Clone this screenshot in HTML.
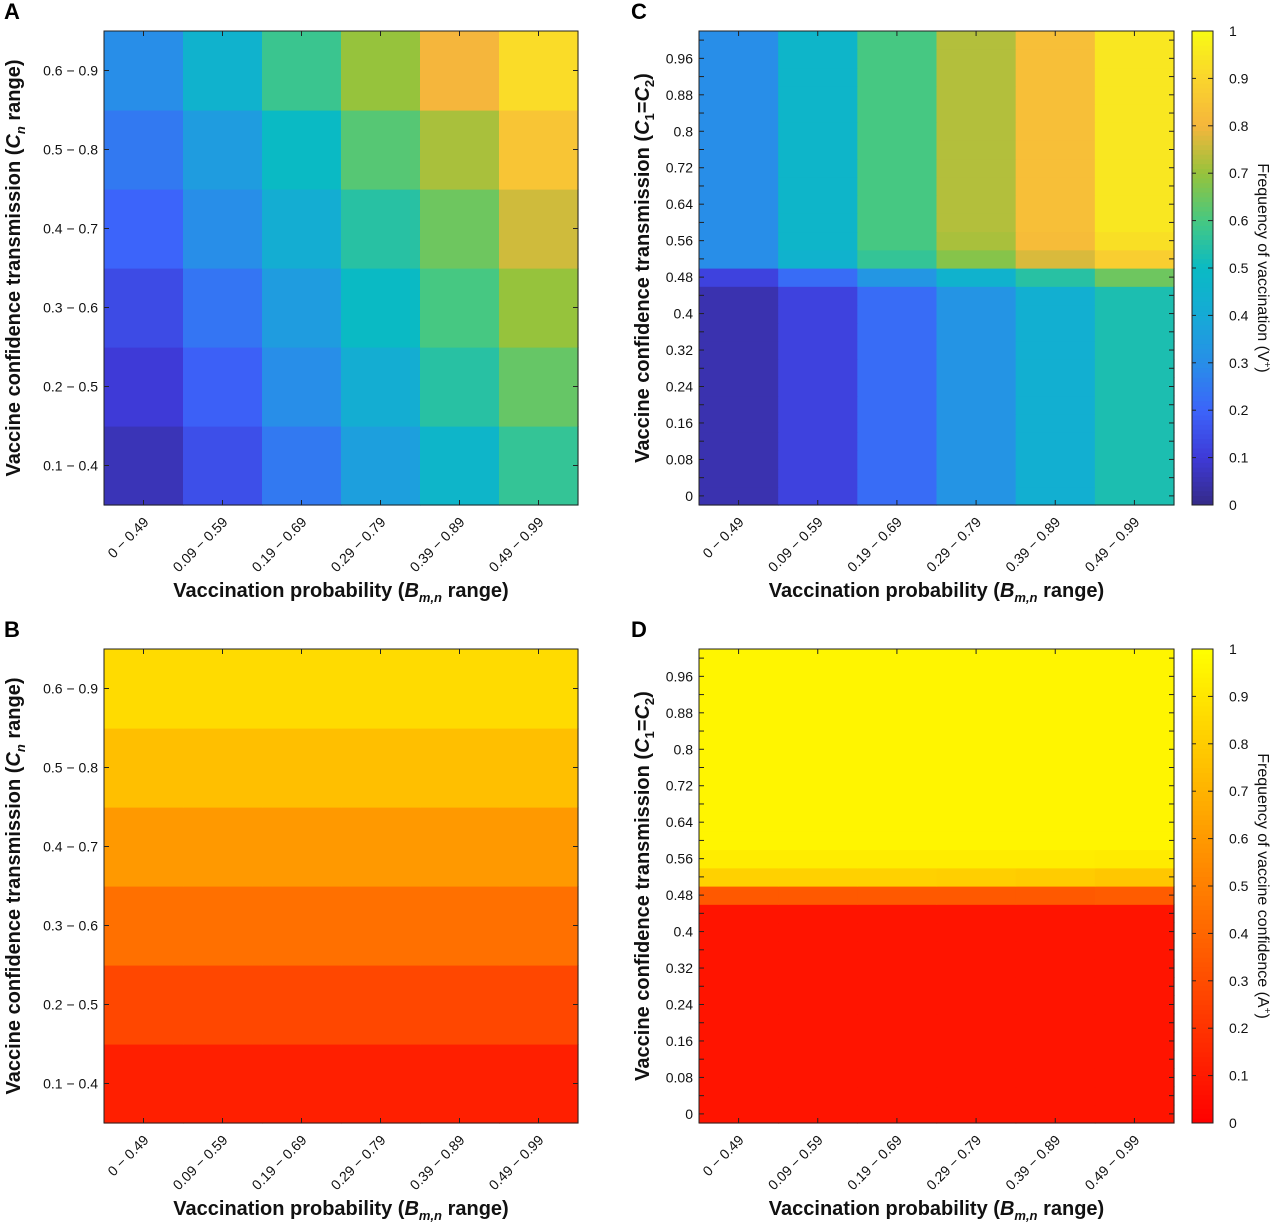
<!DOCTYPE html>
<html><head><meta charset="utf-8"><style>
body{margin:0;background:#fff;}
svg{display:block;font-family:"Liberation Sans",Arial,sans-serif;}
.tk{font-size:14px;fill:#111;}
.ttl{font-size:20px;font-weight:bold;fill:#111;}
.lt{font-size:22px;font-weight:bold;fill:#000;}
.cbt{font-size:16px;fill:#111;}
</style></head><body>
<svg id="fig" width="1280" height="1225" viewBox="0 0 1280 1225"></svg>
<script>
// ---- data ----
const xCategories = ["0 \u2212 0.49","0.09 \u2212 0.59","0.19 \u2212 0.69","0.29 \u2212 0.79","0.39 \u2212 0.89","0.49 \u2212 0.99"];
const yCategoriesAB = ["0.1 \u2212 0.4","0.2 \u2212 0.5","0.3 \u2212 0.6","0.4 \u2212 0.7","0.5 \u2212 0.8","0.6 \u2212 0.9"];
// panel A: rows bottom (0.1-0.4) to top (0.6-0.9), columns left to right
const valuesA = [
 [0.06,0.15,0.25,0.36,0.47,0.57],
 [0.10,0.19,0.30,0.42,0.55,0.64],
 [0.14,0.24,0.35,0.50,0.60,0.70],
 [0.20,0.30,0.42,0.55,0.65,0.76],
 [0.25,0.35,0.50,0.62,0.72,0.85],
 [0.30,0.45,0.58,0.70,0.80,0.92]
];
// panel B: one value per row (bottom to top)
const valuesB = [0.12,0.28,0.44,0.60,0.75,0.86];
// panels C/D: C1=C2 values (row centers)
const yValuesCD = [0,0.04,0.08,0.12,0.16,0.20,0.24,0.28,0.32,0.36,0.40,0.44,0.48,0.52,0.56,0.60,0.64,0.68,0.72,0.76,0.80,0.84,0.88,0.92,0.96,1.0];
const yTicksCD = [0,0.08,0.16,0.24,0.32,0.4,0.48,0.56,0.64,0.72,0.8,0.88,0.96];
const cLow = [0.05,0.12,0.22,0.32,0.43,0.53];
const cRow048 = [0.12,0.22,0.33,0.45,0.55,0.65];
const cRow052 = [0.30,0.45,0.57,0.68,0.77,0.88];
const cRow056 = [0.30,0.47,0.60,0.72,0.82,0.93];
const cHigh = [0.30,0.47,0.60,0.73,0.83,0.95];
const dLow = [0.08,0.08,0.08,0.08,0.08,0.08];
const dRow048 = [0.35,0.35,0.35,0.35,0.35,0.36];
const dRow052 = [0.82,0.82,0.82,0.81,0.80,0.78];
const dRow056 = [0.93,0.93,0.93,0.93,0.93,0.92];
const dHigh = [0.96,0.96,0.96,0.96,0.96,0.96];
const cbTicks = [0,0.1,0.2,0.3,0.4,0.5,0.6,0.7,0.8,0.9,1];

// ---- colormaps ----
const parStops=[[0,[53,42,135]],[0.1,[62,58,215]],[0.2,[60,100,250]],[0.3,[40,142,232]],[0.4,[22,170,214]],[0.5,[10,186,196]],[0.6,[70,200,130]],[0.7,[150,195,60]],[0.8,[245,182,60]],[0.9,[250,212,45]],[1,[248,250,20]]];
function parula(v){v=Math.max(0,Math.min(1,v));for(let i=1;i<parStops.length;i++){if(v<=parStops[i][0]){const a=parStops[i-1],b=parStops[i],t=(v-a[0])/(b[0]-a[0]);return 'rgb('+a[1].map((c,k)=>Math.round(c+(b[1][k]-c)*t)).join(',')+')';}}return 'rgb(248,250,20)';}
function autumn(v){v=Math.max(0,Math.min(1,v));return 'rgb(255,'+Math.round(255*v)+',0)';}

const NS="http://www.w3.org/2000/svg";
const svg=document.getElementById('fig');
function el(tag,attrs,parent,text){const e=document.createElementNS(NS,tag);for(const k in attrs)e.setAttribute(k,attrs[k]);if(text!==undefined)e.textContent=text;(parent||svg).appendChild(e);return e;}

function panel(P){
 const g=el('g',{});
 
 
 const W=P.x1-P.x0,H=P.y1-P.y0,cw=W/6;
 const xs=i=>P.x0+cw*(i+0.5);
 const ys=P.yScale;
 // cells
 P.cells.forEach(c=>{
  const r=el('rect',{x:P.x0+cw*c.col,y:c.yTop,width:cw+0.6,height:c.h+0.6,fill:P.cmap(c.v)},g);
  
  
 });
 el('rect',{x:P.x0,y:P.y0,width:W,height:H,fill:'none',stroke:'#222','stroke-width':1},g);
 // x ticks
 xCategories.forEach((lab,i)=>{
  const x=xs(i);
  el('line',{x1:x,x2:x,y1:P.y1,y2:P.y1-5,stroke:'#222'},g);
  el('line',{x1:x,x2:x,y1:P.y0,y2:P.y0+5,stroke:'#222'},g);
  const t=el('text',{class:'tk','text-anchor':'end',transform:`translate(${x+6},${P.y1+18}) rotate(-45)`},g,lab);
  
  
 });
 // y ticks
 P.yTicks.forEach(tk=>{
  const y=ys(tk.v);
  el('line',{x1:P.x0,x2:P.x0+5,y1:y,y2:y,stroke:'#222'},g);
  el('line',{x1:P.x1,x2:P.x1-5,y1:y,y2:y,stroke:'#222'},g);
  if(tk.label!==null){
   const t=el('text',{class:'tk','text-anchor':'end',x:P.x0-6,y:y+5},g,tk.label);
   
   
  }
 });
 // titles
 const xt=el('text',{class:'ttl','text-anchor':'middle',x:(P.x0+P.x1)/2,y:P.y1+92},g);
 
 
 xt.innerHTML='Vaccination probability (<tspan font-style="italic">B</tspan><tspan font-style="italic" font-size="13" dy="5">m,n</tspan><tspan dy="-5"> range)</tspan>';
 const yt=el('text',{class:'ttl','text-anchor':'middle',transform:`translate(${P.yTitleX},${(P.y0+P.y1)/2}) rotate(-90)`},g);
 
 
 yt.innerHTML=P.yTitle;
 const lt=el('text',{class:'lt',x:P.letterX,y:P.y0-12},g,P.id);
 
 
}

function colorbar(x0,y0,y1,cmap,title,name){
 const g=el('g',{});
 
 
 const n=100,h=(y1-y0)/n;
 for(let i=0;i<n;i++){el('rect',{x:x0,y:y1-h*(i+1),width:21,height:h+0.5,fill:cmap((i+0.5)/n)},g);}
 el('rect',{x:x0,y:y0,width:21,height:y1-y0,fill:'none',stroke:'#222'},g);
 cbTicks.forEach(v=>{
  const y=y1-(y1-y0)*v;
  el('line',{x1:x0+21,x2:x0+16,y1:y,y2:y,stroke:'#222'},g);
  el('line',{x1:x0,x2:x0+4,y1:y,y2:y,stroke:'#222'},g);
  const t=el('text',{class:'tk',x:x0+37,y:y+5},g,String(v));
  
  
 });
 const t=el('text',{class:'cbt','text-anchor':'middle',transform:`translate(${x0+66},${(y0+y1)/2}) rotate(90)`},g);
 
 
 t.innerHTML=title;
}

function abCells(y0,y1,getV){
 const H=(y1-y0)/6,cells=[];
 for(let r=0;r<6;r++)for(let c=0;c<6;c++)cells.push({col:c,yTop:y1-H*(r+1),h:H,v:getV(r,c)});
 return cells;
}
function abTicks(){return yCategoriesAB.map((l,i)=>({v:i,label:l}));}
function cdRowVal(yv,c,low,r48,r52,r56,high){
 if(yv<0.47)return low[c]; if(yv<0.5)return r48[c]; if(yv<0.54)return r52[c]; if(yv<0.58)return r56[c]; return high[c];
}
function cdCells(y0,y1,low,r48,r52,r56,high){
 const ppu=(y1-y0)/1.04,cells=[];
 yValuesCD.forEach(yv=>{for(let c=0;c<6;c++){cells.push({col:c,yTop:y1-(yv+0.02+0.02)*ppu,h:0.04*ppu,v:cdRowVal(yv,c,low,r48,r52,r56,high)});}});
 return cells;
}
function cdTicks(){const t=[];yTicksCD.forEach(v=>{t.push({v:v,label:String(v)});if(v+0.04<=1.0)t.push({v:+(v+0.04).toFixed(2),label:null});});return t;}

const yTitleAB='Vaccine confidence transmission (<tspan font-style="italic">C</tspan><tspan font-style="italic" font-size="13" dy="5">n</tspan><tspan dy="-5"> range)</tspan>';
const yTitleCD='Vaccine confidence transmission (<tspan font-style="italic">C</tspan><tspan font-size="13" dy="5">1</tspan><tspan dy="-5">=</tspan><tspan font-style="italic">C</tspan><tspan font-size="13" dy="5">2</tspan><tspan dy="-5">)</tspan>';

function abScale(y0,y1){const H=(y1-y0)/6;return v=>y1-H*(v+0.5);}
function cdScale(y0,y1){const p=(y1-y0)/1.04;return v=>y1-(v+0.02)*p;}

panel({id:'A',x0:104,x1:578,y0:31,y1:505,cmap:parula,cells:abCells(31,505,(r,c)=>valuesA[r][c]),yScale:abScale(31,505),yTicks:abTicks(),yTitle:yTitleAB,yTitleX:20,letterX:4});
panel({id:'B',x0:104,x1:578,y0:649,y1:1123,cmap:autumn,cells:abCells(649,1123,(r,c)=>valuesB[r]),yScale:abScale(649,1123),yTicks:abTicks(),yTitle:yTitleAB,yTitleX:20,letterX:4});
panel({id:'C',x0:699,x1:1174,y0:31,y1:505,cmap:parula,cells:cdCells(31,505,cLow,cRow048,cRow052,cRow056,cHigh),yScale:cdScale(31,505),yTicks:cdTicks(),yTitle:yTitleCD,yTitleX:649,letterX:631});
panel({id:'D',x0:699,x1:1174,y0:649,y1:1123,cmap:autumn,cells:cdCells(649,1123,dLow,dRow048,dRow052,dRow056,dHigh),yScale:cdScale(649,1123),yTicks:cdTicks(),yTitle:yTitleCD,yTitleX:649,letterX:631});
colorbar(1192,31,505,parula,'Frequency of vaccination (V<tspan font-size="10" dy="-6">+</tspan><tspan dy="6">)</tspan>','colorbar-vaccination');
colorbar(1192,649,1123,autumn,'Frequency of vaccine confidence (A<tspan font-size="10" dy="-6">+</tspan><tspan dy="6">)</tspan>','colorbar-confidence');
</script>
</body></html>
